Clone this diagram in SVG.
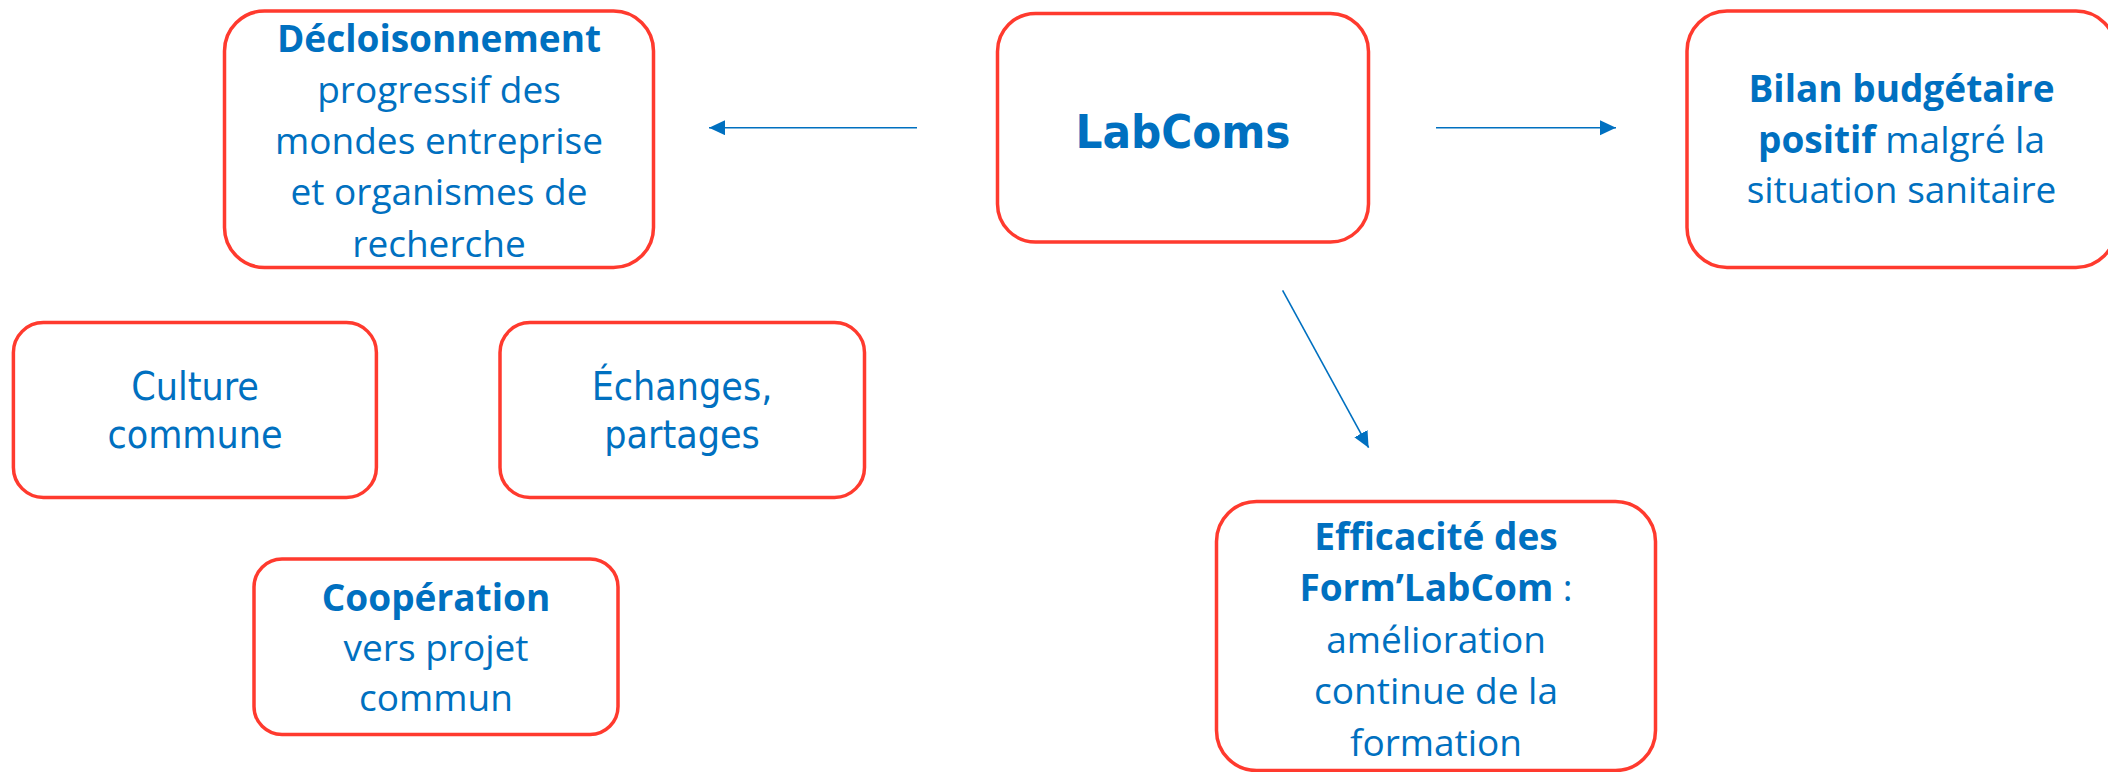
<svg xmlns="http://www.w3.org/2000/svg" width="2108" height="772" viewBox="0 0 2108 772">
<style>
.box{fill:#fff;stroke:#FF3A2E;stroke-width:3.5}
.t{font-family:"Open Sans","Noto Sans",sans-serif;font-size:37px;fill:#0070C0;text-anchor:middle}
.c{font-family:"DejaVu Sans Condensed","DejaVu Sans",sans-serif;font-stretch:condensed;font-size:39px;fill:#0070C0;text-anchor:middle}
.b{font-weight:bold}
.n{font-weight:normal}
.con{stroke:#0070C0;stroke-width:1.6;fill:none}
</style>
<defs>
<marker id="ah" markerUnits="userSpaceOnUse" markerWidth="17" markerHeight="16" refX="16" refY="7.5" orient="auto">
<path d="M0,0 L16,7.5 L0,15 Z" fill="#0070C0"/>
</marker>
</defs>
<rect width="2108" height="772" fill="#fff"/>
<g id="connectors">
<line class="con" x1="917" y1="127.7" x2="709" y2="127.7" marker-end="url(#ah)"/>
<line class="con" x1="1436" y1="127.7" x2="1616" y2="127.7" marker-end="url(#ah)"/>
<line class="con" x1="1282.6" y1="290.4" x2="1368.6" y2="447.7" marker-end="url(#ah)"/>
</g>
<g id="decloisonnement">
<rect class="box" x="224.5" y="11" width="429" height="256.5" rx="40"/>
<text class="t"><tspan class="b" x="439" y="51.7">Décloisonnement</tspan><tspan x="439" y="102.9">progressif des</tspan><tspan x="439" y="154.1">mondes entreprise</tspan><tspan x="439" y="205.3">et organismes de</tspan><tspan x="439" y="256.5">recherche</tspan></text>
</g>
<g id="labcoms">
<rect class="box" x="997.5" y="13.4" width="371" height="228.6" rx="38"/>
<text class="c b" x="1183" y="148" style="font-size:47px">LabComs</text>
</g>
<g id="bilan">
<rect class="box" x="1687" y="11" width="429" height="256.5" rx="40"/>
<text class="t"><tspan class="b" x="1901.5" y="102">Bilan budgétaire</tspan><tspan x="1901.5" y="152.5"><tspan class="b">positif</tspan> malgré la</tspan><tspan x="1901.5" y="203">situation sanitaire</tspan></text>
</g>
<g id="culture">
<rect class="box" x="13.4" y="322.6" width="363" height="174.8" rx="30"/>
<text class="c"><tspan x="195" y="400">Culture</tspan><tspan x="195" y="448">commune</tspan></text>
</g>
<g id="echanges">
<rect class="box" x="500" y="322.6" width="364.5" height="174.8" rx="30"/>
<text class="c"><tspan x="682" y="400">Échanges,</tspan><tspan x="682" y="448">partages</tspan></text>
</g>
<g id="cooperation">
<rect class="box" x="254" y="559" width="364" height="175.5" rx="28"/>
<text class="t"><tspan class="b" x="436" y="610.7">Coopération</tspan><tspan x="436" y="660.7">vers projet</tspan><tspan x="436" y="710.7">commun</tspan></text>
</g>
<g id="efficacite">
<rect class="box" x="1216.5" y="501.5" width="439" height="269" rx="40"/>
<text class="t"><tspan class="b" x="1436" y="549.5">Efficacité des</tspan><tspan x="1436" y="601"><tspan class="b">Form’LabCom</tspan> :</tspan><tspan x="1436" y="652.5">amélioration</tspan><tspan x="1436" y="704">continue de la</tspan><tspan x="1436" y="755.5">formation</tspan></text>
</g>
</svg>
